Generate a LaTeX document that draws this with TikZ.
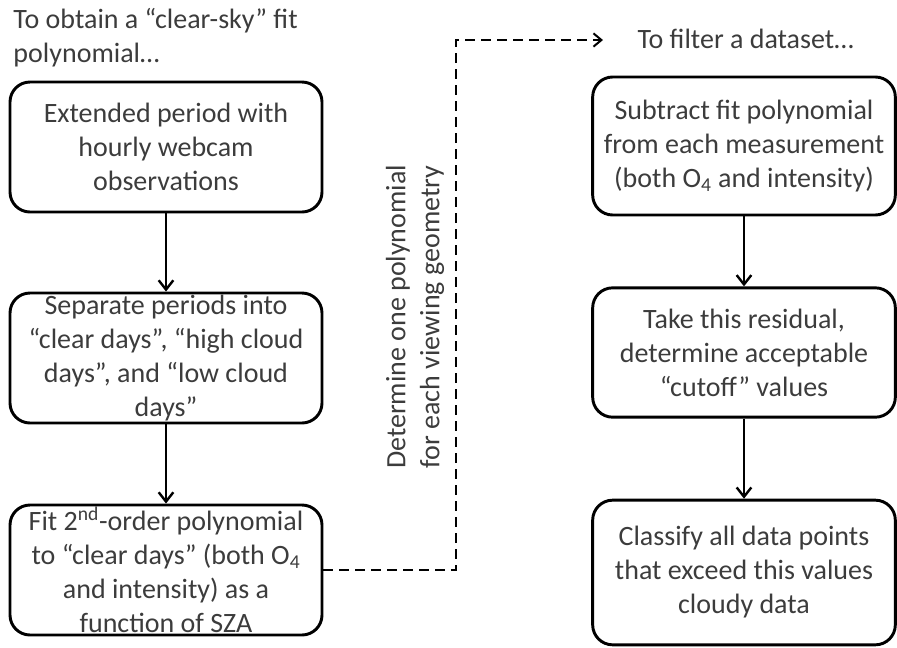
\documentclass[tikz,border=0pt]{standalone}
\usepackage{fontspec}
\setmainfont{Carlito}
\usetikzlibrary{arrows.meta}

\definecolor{txtgray}{RGB}{60,60,60}
\tikzset{every picture/.style={line width=0.75pt}}
\tikzset{
	stepbox/.style={draw=black, line width=2.2pt, rounded corners=15pt, align=center, text=txtgray, inner sep=0pt},
	flowarrow/.style={draw=black, line width=1.8pt, -{Straight Barb[length=7pt,width=11pt,line width=1.8pt]}},
	dasharrow/.style={draw=black, line width=1.5pt, dash pattern={on 7.5pt off 4.5pt}, -{Straight Barb[length=6pt,width=10pt,line width=1.5pt]}},
	caption/.style={text=txtgray, align=left, inner sep=0pt}
}

\begin{document}
\begin{tikzpicture}[x=0.75pt,y=0.75pt,yscale=-1,font=\fontsize{21}{25.5}\selectfont]
	\useasboundingbox (0,0) rectangle (897,647);

	% Text Node
	\node [caption, anchor=north west] (leftcap) at (13,8) {To obtain a “clear-sky” fit\\polynomial…};
	% Text Node
	\node [caption, anchor=west] (rightcap) at (637,39) {To filter a dataset…};

	%Rounded Rect [left column]
	\node [stepbox, minimum width=234pt, minimum height=97.5pt] (extended) at (166,147) {Extended period with\\hourly webcam\\observations};
	\node [stepbox, minimum width=234pt, minimum height=97.5pt] (separate) at (166,358) {Separate periods into\\“clear days”, “high cloud\\days”, and “low cloud\\days”};
	\node [stepbox, minimum width=234pt, minimum height=97.5pt] (fitpoly) at (166,570) {Fit 2\textsuperscript{nd}-order polynomial\\to “clear days” (both O\textsubscript{4}\\and intensity) as a\\function of SZA};

	%Rounded Rect [right column]
	\node [stepbox, minimum width=227pt, minimum height=103.5pt] (subtract) at (744,146) {Subtract fit polynomial\\from each measurement\\(both O\textsubscript{4} and intensity)};
	\node [stepbox, minimum width=227pt, minimum height=97pt] (residual) at (744,352.5) {Take this residual,\\determine acceptable\\“cutoff” values};
	\node [stepbox, minimum width=227pt, minimum height=108.5pt] (classify) at (744,572.5) {Classify all data points\\that exceed  this values\\cloudy data};

	%Straight Lines
	\draw [flowarrow] (extended) -- (separate);
	\draw [flowarrow] (separate) -- (fitpoly);
	\draw [flowarrow] (subtract) -- (residual);
	\draw [flowarrow] (residual) -- (classify);

	%Dashed connector
	\coordinate (dtop) at (456,40);
	\coordinate (dend) at (603,40);
	\draw [dasharrow] (fitpoly.east) -| (dtop) -- (dend);

	% Text Node
	\node [text=txtgray, align=center, rotate=90, inner sep=0pt] (determine) at (415,317) {Determine one polynomial\\for each viewing geometry};

\end{tikzpicture}
\end{document}
